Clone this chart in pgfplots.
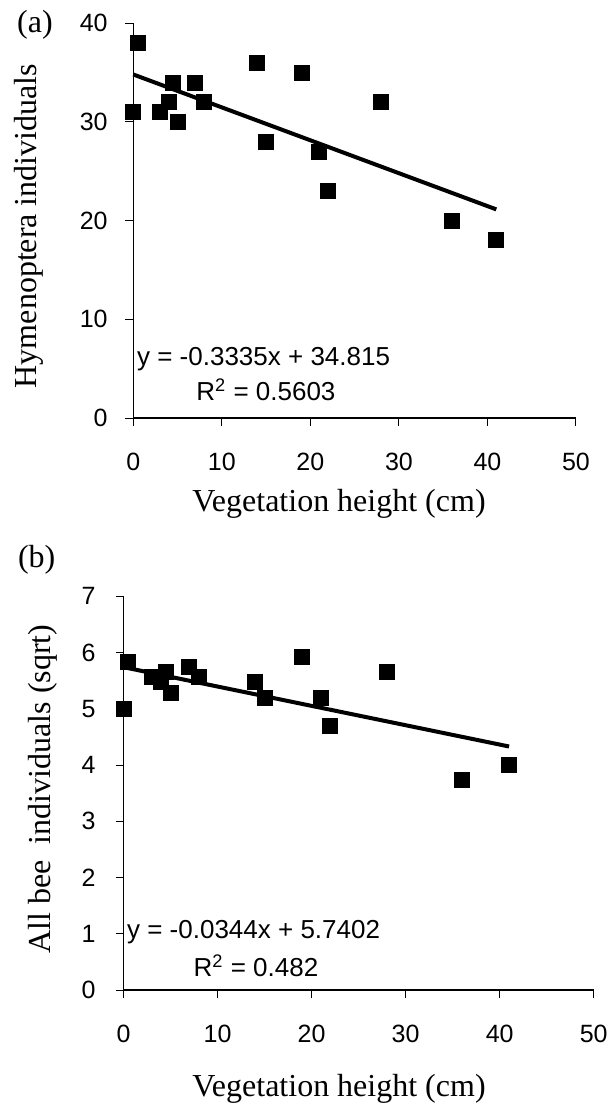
\documentclass[border=0pt]{standalone}
\usepackage{fontspec}
\setmainfont{Liberation Serif}
\newfontfamily\arial{Liberation Sans}
\usepackage{pgfplots}
\pgfplotsset{compat=1.18}

\pgfplotsset{
  veg/.style={
    scale only axis,
    axis lines=left,
    axis line style={-, line width=0.6pt},
    tick align=outside,
    major tick length=4pt,
    tick style={black, line width=0.5pt},
    xmin=0, xmax=50, xtick={0,10,...,50},
    ymin=0,
    clip=false,
    /pgf/number format/assume math mode=true,
    ticklabel style={font=\arial\fontsize{12.5}{15}\selectfont},
    xticklabel style={yshift=-10pt},
  },
  pts/.style={only marks, mark=square*, mark size=3.75pt, black},
  fit/.style={black, line width=2pt, no marks},
}

\begin{document}
\begin{tikzpicture}
\path[use as bounding box] (0,0) rectangle (305.5pt,-555pt);

% (a)
\begin{axis}[veg,
  at={(66.65pt,-209pt)}, anchor=south west,
  width=221.35pt, height=197.35pt,
  ymax=40, ytick={0,10,...,40},
  yticklabel style={xshift=-5.3pt}]
\addplot[pts] coordinates {
  (0,31) (0.5,38) (3,31) (4,32) (4.5,34) (5,30) (7,34) (8,32)
  (14,36) (15,28) (19,35) (21,27) (22,23) (28,32) (36,20) (41,18)
};
\addplot[fit] coordinates {(0,34.815) (41,21.142)};
\end{axis}

% (b)
\begin{axis}[veg,
  at={(61.75pt,-495pt)}, anchor=south west,
  width=235.1pt, height=196.85pt,
  ymax=7, ytick={0,1,...,7},
  yticklabel style={xshift=-6.5pt}]
\addplot[pts] coordinates {
  (0,5.00) (0.5,5.83) (3,5.57) (4,5.48) (4.5,5.66) (5,5.29) (7,5.74) (8,5.57)
  (14,5.48) (15,5.20) (19,5.92) (21,5.20) (22,4.69) (28,5.66) (36,3.74) (41,4.00)
};
\addplot[fit] coordinates {(0,5.7402) (41,4.3298)};
\end{axis}

% labels
\begin{scope}[every node/.style={inner sep=0pt, font=\fontsize{16}{19}\selectfont}]
\node at (17.5pt,-12.5pt) {(a)};
\node at (18.35pt,-280pt) {(b)};
\node[rotate=90, anchor=base] at (18.35pt,-113pt) {Hymenoptera individuals};
\node[rotate=90, anchor=base] at (25pt,-394.5pt) {All bee~ individuals (sqrt)};
\node[anchor=base] at (169.5pt,-255.85pt) {Vegetation height (cm)};
\node[anchor=base] at (169.5pt,-548.3pt) {Vegetation height (cm)};
\end{scope}
\begin{scope}[every node/.style={inner sep=0pt, anchor=base west, font=\arial\fontsize{13}{15}\selectfont}]
\node at (68.35pt,-182.5pt) {y = -0.3335x + 34.815};
\node at (98pt,-200pt) {R\textsuperscript{2} = 0.5603};
\node at (63.35pt,-469.2pt) {y = -0.0344x + 5.7402};
\node at (96.65pt,-488.3pt) {R\textsuperscript{2} = 0.482};
\end{scope}
\end{tikzpicture}
\end{document}
